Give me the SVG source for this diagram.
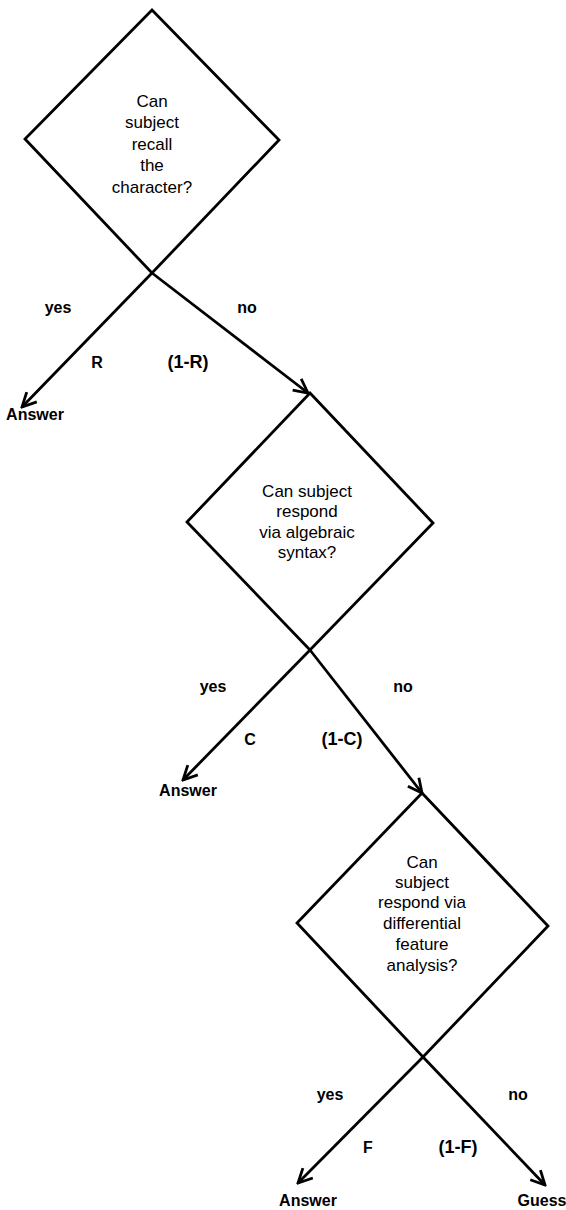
<svg xmlns="http://www.w3.org/2000/svg" width="566" height="1210" viewBox="0 0 566 1210">
<style>
.shape{fill:none;stroke:#000;stroke-width:2.8;stroke-linejoin:miter}
.edge{fill:none;stroke:#000;stroke-width:2.8;marker-end:url(#arr)}
.q{font-family:"Liberation Sans",Arial,sans-serif;font-size:17px;text-anchor:middle;fill:#000}
.lb{font-family:"Liberation Sans",Arial,sans-serif;font-size:16px;font-weight:bold;text-anchor:middle;fill:#000}
.pb{font-family:"Liberation Sans",Arial,sans-serif;font-size:18px;font-weight:bold;text-anchor:middle;fill:#000}
</style>
<defs>
<marker id="arr" viewBox="0 0 20 20" refX="18" refY="10" markerWidth="20" markerHeight="20" markerUnits="userSpaceOnUse" orient="auto">
<polyline points="4,3 18,10 4,17" fill="none" stroke="#000" stroke-width="2.8"/>
</marker>
</defs>
<rect width="566" height="1210" fill="#fff"/>
<g id="d1">
<polygon class="shape" points="152,10 279,140 152,273 25,139"/>
<text class="q" x="152" y="107">Can</text>
<text class="q" x="152" y="128">subject</text>
<text class="q" x="152" y="150">recall</text>
<text class="q" x="152" y="171">the</text>
<text class="q" x="152" y="193">character?</text>
</g>
<g id="d2">
<polygon class="shape" points="310,393 433,523 310,650 187,522"/>
<text class="q" x="307" y="497">Can subject</text>
<text class="q" x="307" y="517">respond</text>
<text class="q" x="307" y="538">via algebraic</text>
<text class="q" x="307" y="558">syntax?</text>
</g>
<g id="d3">
<polygon class="shape" points="422,793 548,926 423,1057 297,923"/>
<text class="q" x="422" y="868">Can</text>
<text class="q" x="422" y="888">subject</text>
<text class="q" x="422" y="908">respond via</text>
<text class="q" x="422" y="929">differential</text>
<text class="q" x="422" y="950">feature</text>
<text class="q" x="422" y="971">analysis?</text>
</g>
<g id="a1"><text class="lb" x="35" y="420">Answer</text></g>
<g id="a2"><text class="lb" x="188" y="796">Answer</text></g>
<g id="a3"><text class="lb" x="308" y="1206">Answer</text></g>
<g id="guess"><text class="lb" x="542" y="1206">Guess</text></g>
<g id="connectors">
<line class="edge" x1="152" y1="273" x2="22" y2="407"/>
<line class="edge" x1="152" y1="273" x2="308" y2="393"/>
<line class="edge" x1="310" y1="650" x2="183" y2="780"/>
<line class="edge" x1="310" y1="650" x2="422" y2="793"/>
<line class="edge" x1="423" y1="1057" x2="298" y2="1183"/>
<line class="edge" x1="423" y1="1057" x2="545" y2="1185"/>
<text class="lb" x="58" y="313">yes</text>
<text class="lb" x="247" y="313">no</text>
<text class="lb" x="97" y="368">R</text>
<text class="pb" x="188" y="368">(1-R)</text>
<text class="lb" x="213" y="692">yes</text>
<text class="lb" x="403" y="692">no</text>
<text class="lb" x="250" y="745">C</text>
<text class="pb" x="342" y="745">(1-C)</text>
<text class="lb" x="330" y="1100">yes</text>
<text class="lb" x="518" y="1100">no</text>
<text class="lb" x="368" y="1153">F</text>
<text class="pb" x="458" y="1153">(1-F)</text>
</g>
</svg>
